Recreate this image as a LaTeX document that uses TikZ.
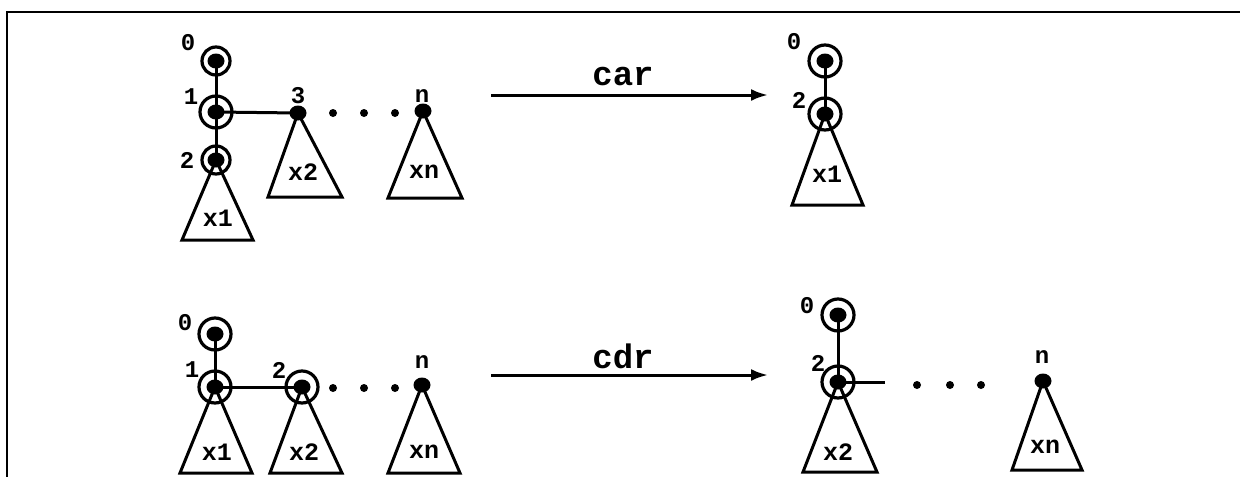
\documentclass[tikz,border=0pt]{standalone}
\usepackage{fontspec}
\newfontfamily\cour{Liberation Mono}
\usetikzlibrary{shapes.geometric,arrows.meta}
\begin{document}
\begin{tikzpicture}[x=1pt,y=-1pt,
  ring/.style={circle,draw,line width=3.2pt,minimum size=28pt,inner sep=0pt},
  bigring/.style={ring,minimum size=32pt},
  dot/.style={ellipse,fill,minimum width=17pt,minimum height=15pt,inner sep=0pt},
  sdot/.style={circle,fill,minimum size=8pt,inner sep=0pt},
  lbl/.style={font=\cour\bfseries\fontsize{24}{24}\selectfont,inner sep=0pt},
  tri/.style={draw,line width=3pt,line join=miter},
  tlbl/.style={font=\cour\bfseries\fontsize{25}{25}\selectfont,inner sep=0pt},
  edge/.style={line width=3pt},
  op/.style={-{Latex[length=17pt,width=12pt]},line width=3pt},
  oplbl/.style={font=\cour\bfseries\fontsize{34}{34}\selectfont,inner sep=0pt}
]
\useasboundingbox (0,0) rectangle (1240,477);
\draw[line width=2.6pt] (1240,12) -- (7,12) -- (7,477);

% ---------- top left ----------
\node[dot] (a0) at (216,61) {};
\node[ring] (a0r) at (216,61) {};
\node[dot] (a1) at (216,112) {};
\node[bigring] (a1r) at (216,112) {};
\node[dot] (a2) at (216,160) {};
\node[ring] (a2r) at (216,160) {};
\node[dot] (a3) at (298,113) {};
\node[sdot] (ad1) at (333,113) {};
\node[sdot] (ad2) at (364,113) {};
\node[sdot] (ad3) at (395,113) {};
\node[dot] (an) at (423,111) {};
\node[lbl] (la0) at (188,43) {0};
\node[lbl] (la1) at (191,97) {1};
\node[lbl] (la2) at (187,160) {2};
\node[lbl] (la3) at (298,96) {3};
\node[lbl] (lan) at (422,96) {n};
\draw[edge] (a0.center) -- (a1.center) -- (a2.center);
\draw[edge] (a1.center) -- (a3.center);
\coordinate (t1l) at (182,240); \coordinate (t1r) at (253,240);
\draw[tri] (a2.center) -- (t1l) -- (t1r) -- cycle;
\node[tlbl] (tx1) at (218,218) {x1};
\coordinate (t2l) at (268,197); \coordinate (t2r) at (342,197);
\draw[tri] (a3.center) -- (t2l) -- (t2r) -- cycle;
\node[tlbl] (tx2) at (303,172) {x2};
\coordinate (tnl) at (388,198); \coordinate (tnr) at (462,198);
\draw[tri] (an.center) -- (tnl) -- (tnr) -- cycle;
\node[tlbl] (txn) at (424,172) {xn};

% ---------- car arrow ----------
\coordinate (cs) at (491,95); \coordinate (ce) at (768,95);
\draw[op] (cs) -- (ce);
\node[oplbl] (car) at (623,77) {car};

% ---------- top right ----------
\node[dot] (b0) at (825,61) {};
\node[bigring] (b0r) at (825,61) {};
\node[dot] (b2) at (825,114) {};
\node[bigring] (b2r) at (825,114) {};
\node[lbl] (lb0) at (794,42) {0};
\node[lbl] (lb2) at (799,100) {2};
\draw[edge] (b0.center) -- (b2.center);
\coordinate (u1l) at (792,205); \coordinate (u1r) at (863,205);
\draw[tri] (b2.center) -- (u1l) -- (u1r) -- cycle;
\node[tlbl] (ux1) at (827,174) {x1};

% ---------- bottom left ----------
\node[dot] (c0) at (215,334) {};
\node[bigring] (c0r) at (215,334) {};
\node[dot] (c1) at (215,387) {};
\node[bigring] (c1r) at (215,387) {};
\node[dot] (c2) at (302,387) {};
\node[bigring] (c2r) at (302,387) {};
\node[sdot] (cd1) at (333,388) {};
\node[sdot] (cd2) at (364,388) {};
\node[sdot] (cd3) at (395,388) {};
\node[dot] (cn) at (422,385) {};
\node[lbl] (lc0) at (185,323) {0};
\node[lbl] (lc1) at (192,370) {1};
\node[lbl] (lc2) at (279,370) {2};
\node[lbl] (lcn) at (422,362) {n};
\draw[edge] (c0.center) -- (c1.center) -- (c2.center);
\coordinate (v1l) at (180,473); \coordinate (v1r) at (252,473);
\draw[tri] (c1.center) -- (v1l) -- (v1r) -- cycle;
\node[tlbl] (vx1) at (217,452) {x1};
\coordinate (v2l) at (270,473); \coordinate (v2r) at (342,473);
\draw[tri] (c2.center) -- (v2l) -- (v2r) -- cycle;
\node[tlbl] (vx2) at (304,452) {x2};
\coordinate (vnl) at (388,473); \coordinate (vnr) at (460,473);
\draw[tri] (cn.center) -- (vnl) -- (vnr) -- cycle;
\node[tlbl] (vxn) at (424,452) {xn};

% ---------- cdr arrow ----------
\coordinate (ds) at (491,375); \coordinate (de) at (768,375);
\draw[op] (ds) -- (de);
\node[oplbl] (cdr) at (623,356) {cdr};

% ---------- bottom right ----------
\node[dot] (d0) at (838,315) {};
\node[bigring] (d0r) at (838,315) {};
\node[dot] (d2) at (838,382) {};
\node[bigring] (d2r) at (838,382) {};
\node[sdot] (dd1) at (917,385) {};
\node[sdot] (dd2) at (950,385) {};
\node[sdot] (dd3) at (981,385) {};
\node[dot] (dn) at (1043,381) {};
\node[lbl] (ld0) at (807,306) {0};
\node[lbl] (ld2) at (818,363) {2};
\node[lbl] (ldn) at (1042,357) {n};
\coordinate (dend) at (885,382);
\draw[edge] (d0.center) -- (d2.center) -- (dend);
\coordinate (w2l) at (803,472); \coordinate (w2r) at (877,472);
\draw[tri] (d2.center) -- (w2l) -- (w2r) -- cycle;
\node[tlbl] (wx2) at (838,452) {x2};
\coordinate (wnl) at (1012,470); \coordinate (wnr) at (1082,470);
\draw[tri] (dn.center) -- (wnl) -- (wnr) -- cycle;
\node[tlbl] (wxn) at (1045,447) {xn};
\end{tikzpicture}
\end{document}
